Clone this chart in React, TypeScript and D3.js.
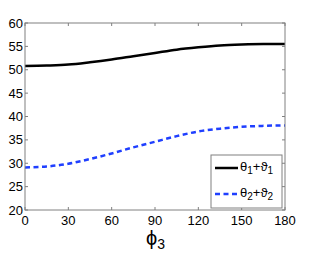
import * as d3 from "d3";

const phi = [0, 15, 30, 45, 60, 75, 90, 105, 120, 135, 150, 165, 180];
const sum1 = [50.8, 50.9, 51.1, 51.6, 52.2, 52.9, 53.6, 54.3, 54.8, 55.2, 55.4, 55.5, 55.5];
const sum2 = [29.1, 29.3, 29.9, 30.9, 32.1, 33.4, 34.6, 35.8, 36.8, 37.4, 37.8, 38.0, 38.1];
const xTicks = [0, 30, 60, 90, 120, 150, 180];
const yTicks = [20, 25, 30, 35, 40, 45, 50, 55, 60];

const width = 316;
const height = 254;
const margin = { top: 23, right: 31, bottom: 44, left: 25 };

export default function App() {
  const x = d3.scaleLinear().domain([0, 180]).range([margin.left, width - margin.right]);
  const y = d3.scaleLinear().domain([20, 60]).range([height - margin.bottom, margin.top]);

  const line = d3
    .line<number>()
    .x((_, i) => x(phi[i]))
    .y((d) => y(d))
    .curve(d3.curveMonotoneX);

  const x0 = x(0), x1 = x(180), y0 = y(20), y1 = y(60);
  const font = "Arial, 'Liberation Sans', Helvetica, sans-serif";
  const axisColor = "#808080";

  const lg = { x: 211, y: 155, w: 71, h: 53 };

  return (
    <svg width={width} height={height} style={{ position: "absolute", left: 0, top: 0 }}>
      <rect x={0} y={0} width={width} height={height} fill="#fff" />
      <path d={line(sum1) ?? ""} fill="none" stroke="#000" strokeWidth={2.5} />
      <path
        d={line(sum2) ?? ""}
        fill="none"
        stroke="#1f3fff"
        strokeWidth={2.5}
        strokeDasharray="5,3.5"
      />
      <rect x={x0} y={y1} width={x1 - x0} height={y0 - y1} fill="none" stroke={axisColor} strokeWidth={1} />
      {xTicks.map((t) => (
        <g key={"x" + t}>
          <line x1={x(t)} x2={x(t)} y1={y0} y2={y0 - 3} stroke={axisColor} />
          <line x1={x(t)} x2={x(t)} y1={y1} y2={y1 + 3} stroke={axisColor} />
          <text x={x(t)} y={y0 + 15} textAnchor="middle" fontFamily={font} fontSize={13}>
            {t}
          </text>
        </g>
      ))}
      {yTicks.map((t) => (
        <g key={"y" + t}>
          <line x1={x0} x2={x0 + 3} y1={y(t)} y2={y(t)} stroke={axisColor} />
          <line x1={x1} x2={x1 - 3} y1={y(t)} y2={y(t)} stroke={axisColor} />
          <text x={x0 - 2} y={y(t) + 4.5} textAnchor="end" fontFamily={font} fontSize={13}>
            {t}
          </text>
        </g>
      ))}
      <text x={146} y={245} fontFamily={font} fontSize={20}>
        ϕ<tspan fontSize={14} dy={4}>3</tspan>
      </text>
      <rect x={lg.x} y={lg.y} width={lg.w} height={lg.h} fill="#fff" stroke={axisColor} />
      <line x1={215} x2={238} y1={168} y2={168} stroke="#000" strokeWidth={2.5} />
      <line x1={215} x2={238} y1={194} y2={194} stroke="#1f3fff" strokeWidth={2.5} strokeDasharray="5,3.5" />
      <text x={240} y={171} fontFamily={font} fontSize={13}>
        θ<tspan fontSize={10} dy={3}>1</tspan>
        <tspan dy={-3}>+ϑ</tspan>
        <tspan fontSize={10} dy={3}>1</tspan>
      </text>
      <text x={240} y={197} fontFamily={font} fontSize={13}>
        θ<tspan fontSize={10} dy={3}>2</tspan>
        <tspan dy={-3}>+ϑ</tspan>
        <tspan fontSize={10} dy={3}>2</tspan>
      </text>
    </svg>
  );
}
